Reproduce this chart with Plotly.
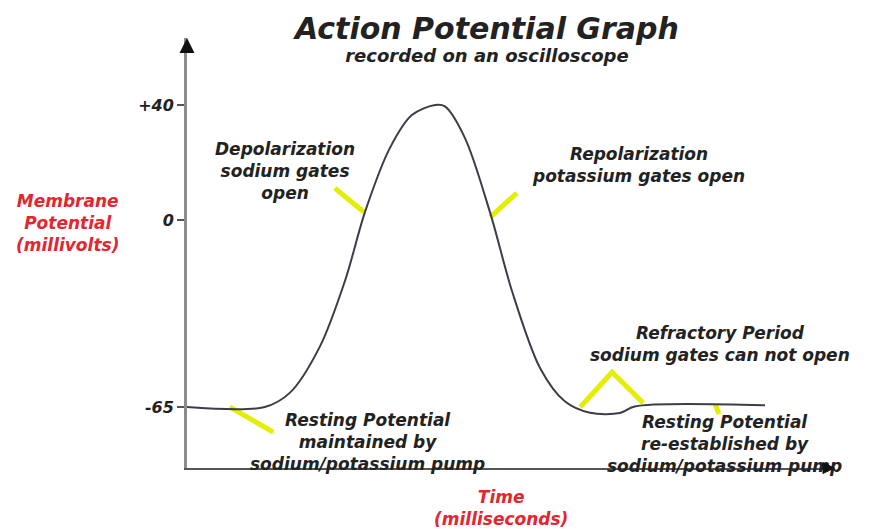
import plotly.graph_objects as go

# ---- data (time in ms, membrane potential in mV) ----
time_ms = [0.0, 1.20, 1.59, 2.05, 2.44, 2.75, 3.13, 3.47, 3.83,
           3.98, 4.29, 4.68, 5.02, 5.45, 5.83, 6.22, 6.68, 6.91, 8.92]
potential_mv = [-65, -65, -60, -44, -21, 3, 25, 36.5, 40,
                39.5, 28.5, 2.4, -25, -51.5, -63, -67, -67.1, -64.8, -64.4]

tick_values = [40, 0, -65]
tick_labels = ["+40", "0", "-65"]

# pointer segments (time, mV)
pointer_t = [[2.28, 2.73], [4.68, 5.09], [0.66, 1.33], [6.07, 6.56, 7.04], [8.15, 8.21]]
pointer_v = [[11.1, 2.8], [1.0, 9.4], [-65, -73.7], [-65, -52.9, -63.6], [-64, -67.5]]

# callout texts with anchor (time, mV)
callout_texts = ["Depolarization<br>sodium gates<br>open",
                 "Repolarization<br>potassium gates open",
                 "Resting Potential<br>maintained by<br>sodium/potassium pump",
                 "Refractory Period<br>sodium gates can not open",
                 "Resting Potential<br>re-established by<br>sodium/potassium pump"]
callout_t = [1.51, 6.96, 2.78, 8.23, 8.30]
callout_v = [16.9, 19.1, -77.1, -43.1, -77.8]

y_title_text = "Membrane<br>Potential<br>(millivolts)"
x_title_text = "Time<br>(milliseconds)"
title_text = "Action Potential Graph"
subtitle_text = "recorded on an oscilloscope"

FONT = "DejaVu Sans"
INK = "#222222"
RED = "#e3262f"
YELLOW = "#e4ee00"

fig = go.Figure()

for pt, pv in zip(pointer_t, pointer_v):
    fig.add_trace(go.Scatter(x=pt, y=pv, mode="lines",
                             line=dict(color=YELLOW, width=5),
                             hoverinfo="skip", showlegend=False))

fig.add_trace(go.Scatter(x=time_ms, y=potential_mv, mode="lines",
                         line=dict(color="#3d3d4a", width=2, shape="spline", smoothing=0.9),
                         showlegend=False))


def bold_italic(size, color):
    return dict(family=FONT, size=size, color=color, weight="bold", style="italic")


annotations = []
for txt, t, v in zip(callout_texts, callout_t, callout_v):
    annotations.append(dict(x=t, y=v, xref="x", yref="y", text=txt, showarrow=False,
                            font=bold_italic(17, INK), align="center",
                            xanchor="center", yanchor="middle"))

annotations.append(dict(x=-0.184, y=0.570, xref="paper", yref="paper", text=y_title_text,
                        showarrow=False, font=bold_italic(17, RED), align="center",
                        xanchor="center", yanchor="middle"))
annotations.append(dict(x=0.485, y=-0.093, xref="paper", yref="paper", text=x_title_text,
                        showarrow=False, font=bold_italic(17, RED), align="center",
                        xanchor="center", yanchor="middle"))

annotations.append(dict(x=0.462, y=1.0, xref="paper", yref="paper",
                        text="<span style='font-size:30px'>" + title_text + "</span><br>"
                             + "<span style='font-size:18px'>" + subtitle_text + "</span>",
                        showarrow=False, font=bold_italic(17.5, INK), align="center",
                        xanchor="center", yanchor="middle"))

# axis arrowheads
annotations.append(dict(x=0, y=1, xref="paper", yref="paper", ax=0, ay=14, showarrow=True,
                        arrowhead=2, arrowsize=1, arrowwidth=3, arrowcolor="#111111", text=""))
annotations.append(dict(x=1, y=0, xref="paper", yref="paper", ax=-14, ay=0, showarrow=True,
                        arrowhead=2, arrowsize=1, arrowwidth=2.5, arrowcolor="#111111", text=""))

fig.update_layout(
    width=867, height=521, autosize=False,
    margin=dict(l=179, r=40, t=30, b=61),
    paper_bgcolor="white", plot_bgcolor="white",
    annotations=annotations,
    xaxis=dict(range=[0, 10], showgrid=False, zeroline=False, showticklabels=False,
               ticks="", showline=True, linecolor="#555555", linewidth=2),
    yaxis=dict(range=[-86.2, 63.3], showgrid=False, zeroline=False,
               tickvals=tick_values, ticktext=tick_labels, ticks="outside", ticklen=7,
               tickcolor="#555555", tickwidth=1.5,
               tickfont=bold_italic(16, INK),
               showline=True, linecolor="#8c8c8c", linewidth=3),
)

fig.write_html("out.html")
